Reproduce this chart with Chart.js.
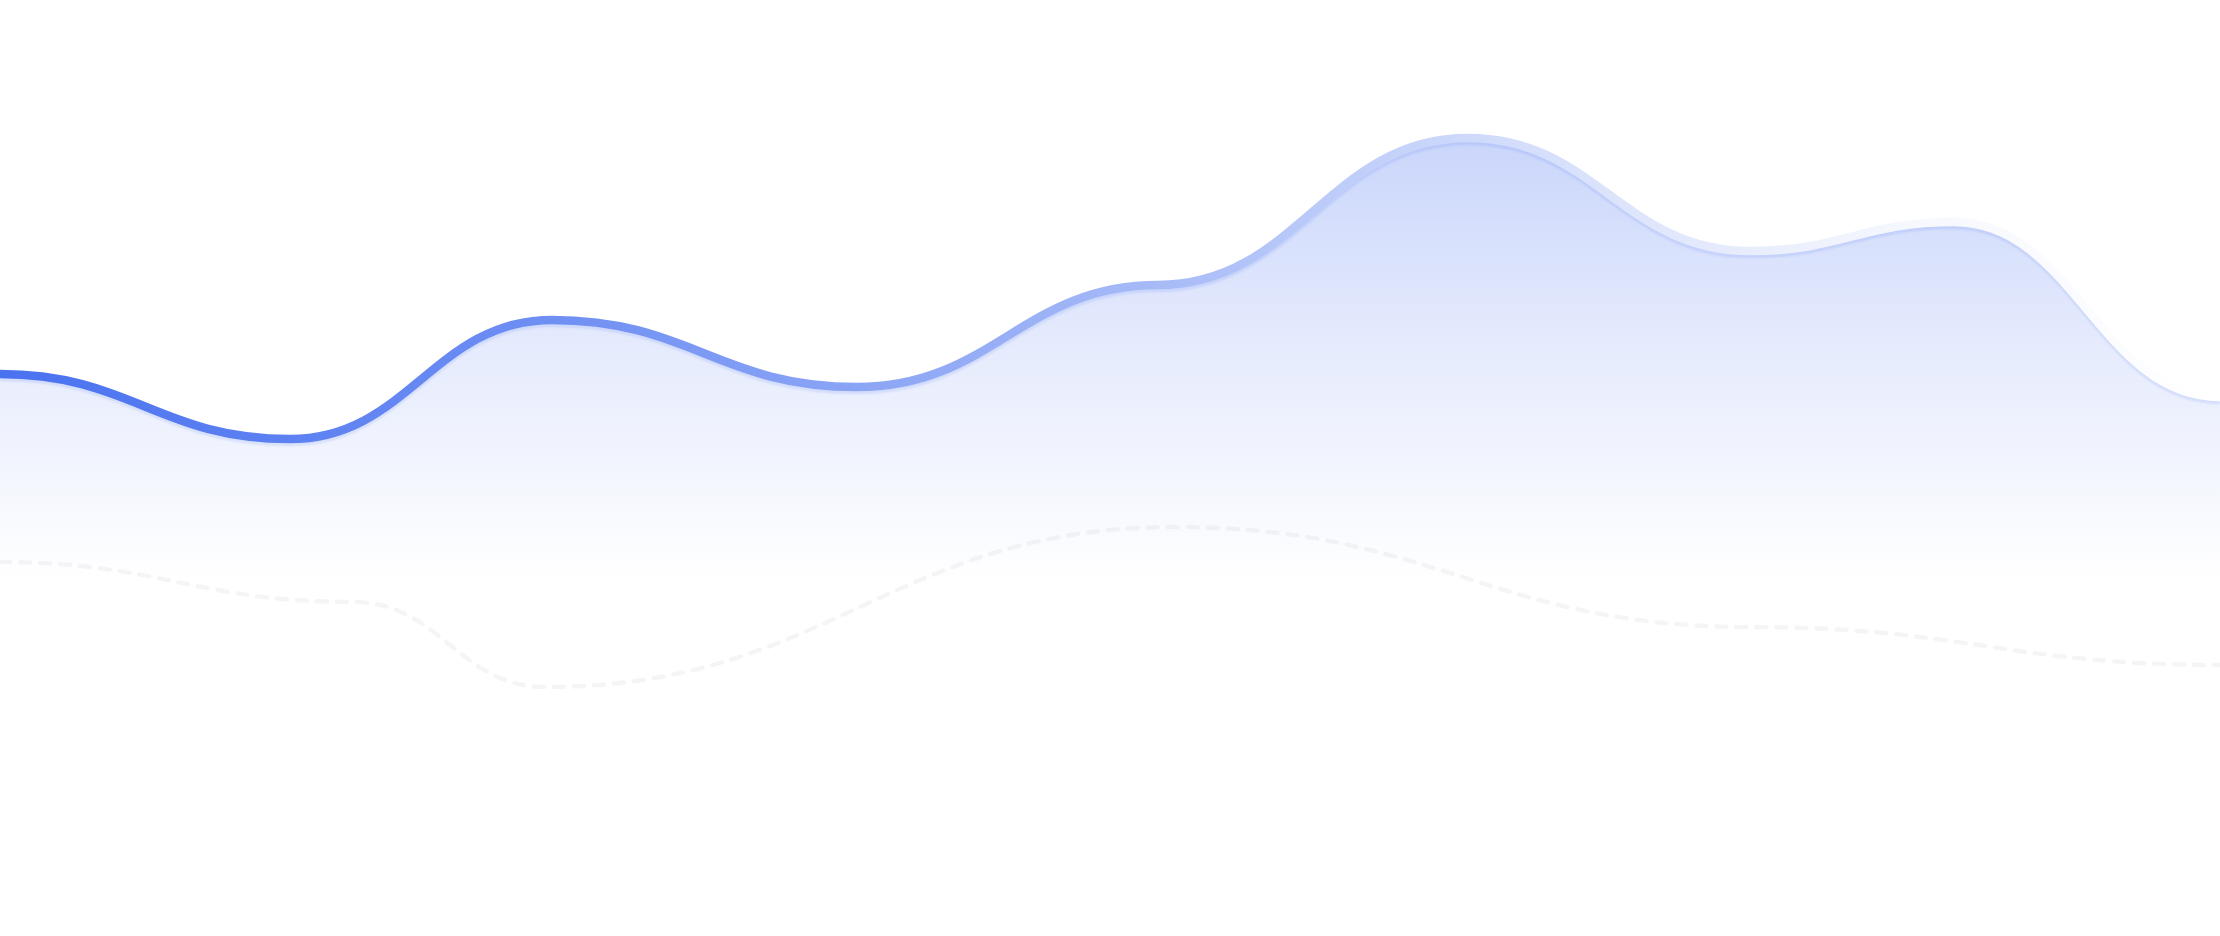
<!DOCTYPE html>
<html lang="en">
<head>
    <meta charset="UTF-8">
    <title>Wave</title>
    <script src="https://cdn.jsdelivr.net/npm/chart.js"></script>
    <style>
        html, body {
            margin: 0;
            padding: 0;
            background: #ffffff;
            overflow: hidden;
        }

        .wrap {
            width: 2220px;
            height: 936px;
            position: relative;
        }
    </style>
</head>
<body>
    <div class="wrap">
        <canvas id="waveChart"></canvas>
    </div>

    <script>
        // x positions of the points along the canvas (same units as the x axis)
        const mainX = [0, 290, 552, 857, 1158, 1468, 1750, 1954, 2220];
        const mainValues = [562, 497, 616, 549, 651, 798, 685, 714, 539];

        const dashX = [0, 354, 545, 1175, 1750, 2220];
        const dashValues = [374, 334, 249, 409, 309, 271];

        const xRange = [0, 2220];
        const yRange = [0, 936];

        const toPoints = (xs, ys) => xs.map((x, i) => ({ x: x, y: ys[i] }));

        function lineGradient(context) {
            const chart = context.chart;
            const area = chart.chartArea;
            if (!area) return '#4a72f0';
            const g = chart.ctx.createLinearGradient(area.left, 0, area.right, 0);
            g.addColorStop(0, '#4a72f0');
            g.addColorStop(0.25, '#6f8ff3');
            g.addColorStop(0.52, '#a6baf7');
            g.addColorStop(0.68, '#d3ddfb');
            g.addColorStop(0.86, '#f6f8fe');
            g.addColorStop(1, '#ffffff');
            return g;
        }

        function fillGradient(context) {
            const chart = context.chart;
            const area = chart.chartArea;
            if (!area) return 'rgba(74, 114, 240, 0.15)';
            const h = area.bottom - area.top;
            const g = chart.ctx.createLinearGradient(0, area.top + h * 0.14, 0, area.top + h * 0.62);
            g.addColorStop(0, 'rgba(74, 114, 240, 0.30)');
            g.addColorStop(0.45, 'rgba(74, 114, 240, 0.15)');
            g.addColorStop(1, 'rgba(74, 114, 240, 0)');
            return g;
        }

        // wave look: every point gets flat (horizontal) bezier handles
        const flatTangents = {
            id: 'flatTangents',
            afterDatasetsUpdate(chart) {
                chart.data.datasets.forEach((ds, i) => {
                    const meta = chart.getDatasetMeta(i);
                    const pts = meta.data;
                    const k = 0.45;
                    pts.forEach((p, j) => {
                        const prev = pts[j - 1];
                        const next = pts[j + 1];
                        p.cp1x = prev ? p.x - (p.x - prev.x) * k : p.x;
                        p.cp1y = p.y;
                        p.cp2x = next ? p.x + (next.x - p.x) * k : p.x;
                        p.cp2y = p.y;
                    });
                    meta.dataset._pointsUpdated = true;
                });
            },
            // soft edge under the main stroke
            beforeDatasetDraw(chart, args) {
                if (args.index !== 0) return;
                const ctx = chart.ctx;
                ctx.save();
                ctx.shadowColor = 'rgba(74, 114, 240, 0.14)';
                ctx.shadowBlur = 2;
                ctx.shadowOffsetY = 3;
            },
            afterDatasetDraw(chart, args) {
                if (args.index !== 0) return;
                chart.ctx.restore();
            }
        };

        const chart = new Chart(document.getElementById('waveChart'), {
            type: 'line',
            data: {
                datasets: [
                    {
                        label: 'main',
                        data: toPoints(mainX, mainValues),
                        borderColor: lineGradient,
                        backgroundColor: fillGradient,
                        borderWidth: 8.5,
                        fill: 'start',
                        pointRadius: 0,
                        tension: 0.4,
                        order: 1
                    },
                    {
                        label: 'dashed',
                        data: toPoints(dashX, dashValues),
                        borderColor: 'rgba(0, 0, 0, 0.04)',
                        borderWidth: 4.5,
                        borderDash: [10, 10],
                        borderCapStyle: 'round',
                        fill: false,
                        pointRadius: 0,
                        tension: 0.4,
                        order: 2
                    }
                ]
            },
            options: {
                responsive: true,
                maintainAspectRatio: false,
                animation: false,
                layout: { padding: 0 },
                plugins: {
                    legend: { display: false },
                    tooltip: { enabled: false }
                },
                scales: {
                    x: {
                        type: 'linear',
                        display: false,
                        min: xRange[0],
                        max: xRange[1]
                    },
                    y: {
                        display: false,
                        min: yRange[0],
                        max: yRange[1]
                    }
                }
            },
            plugins: [flatTangents]
        });
    </script>
</body>
</html>
